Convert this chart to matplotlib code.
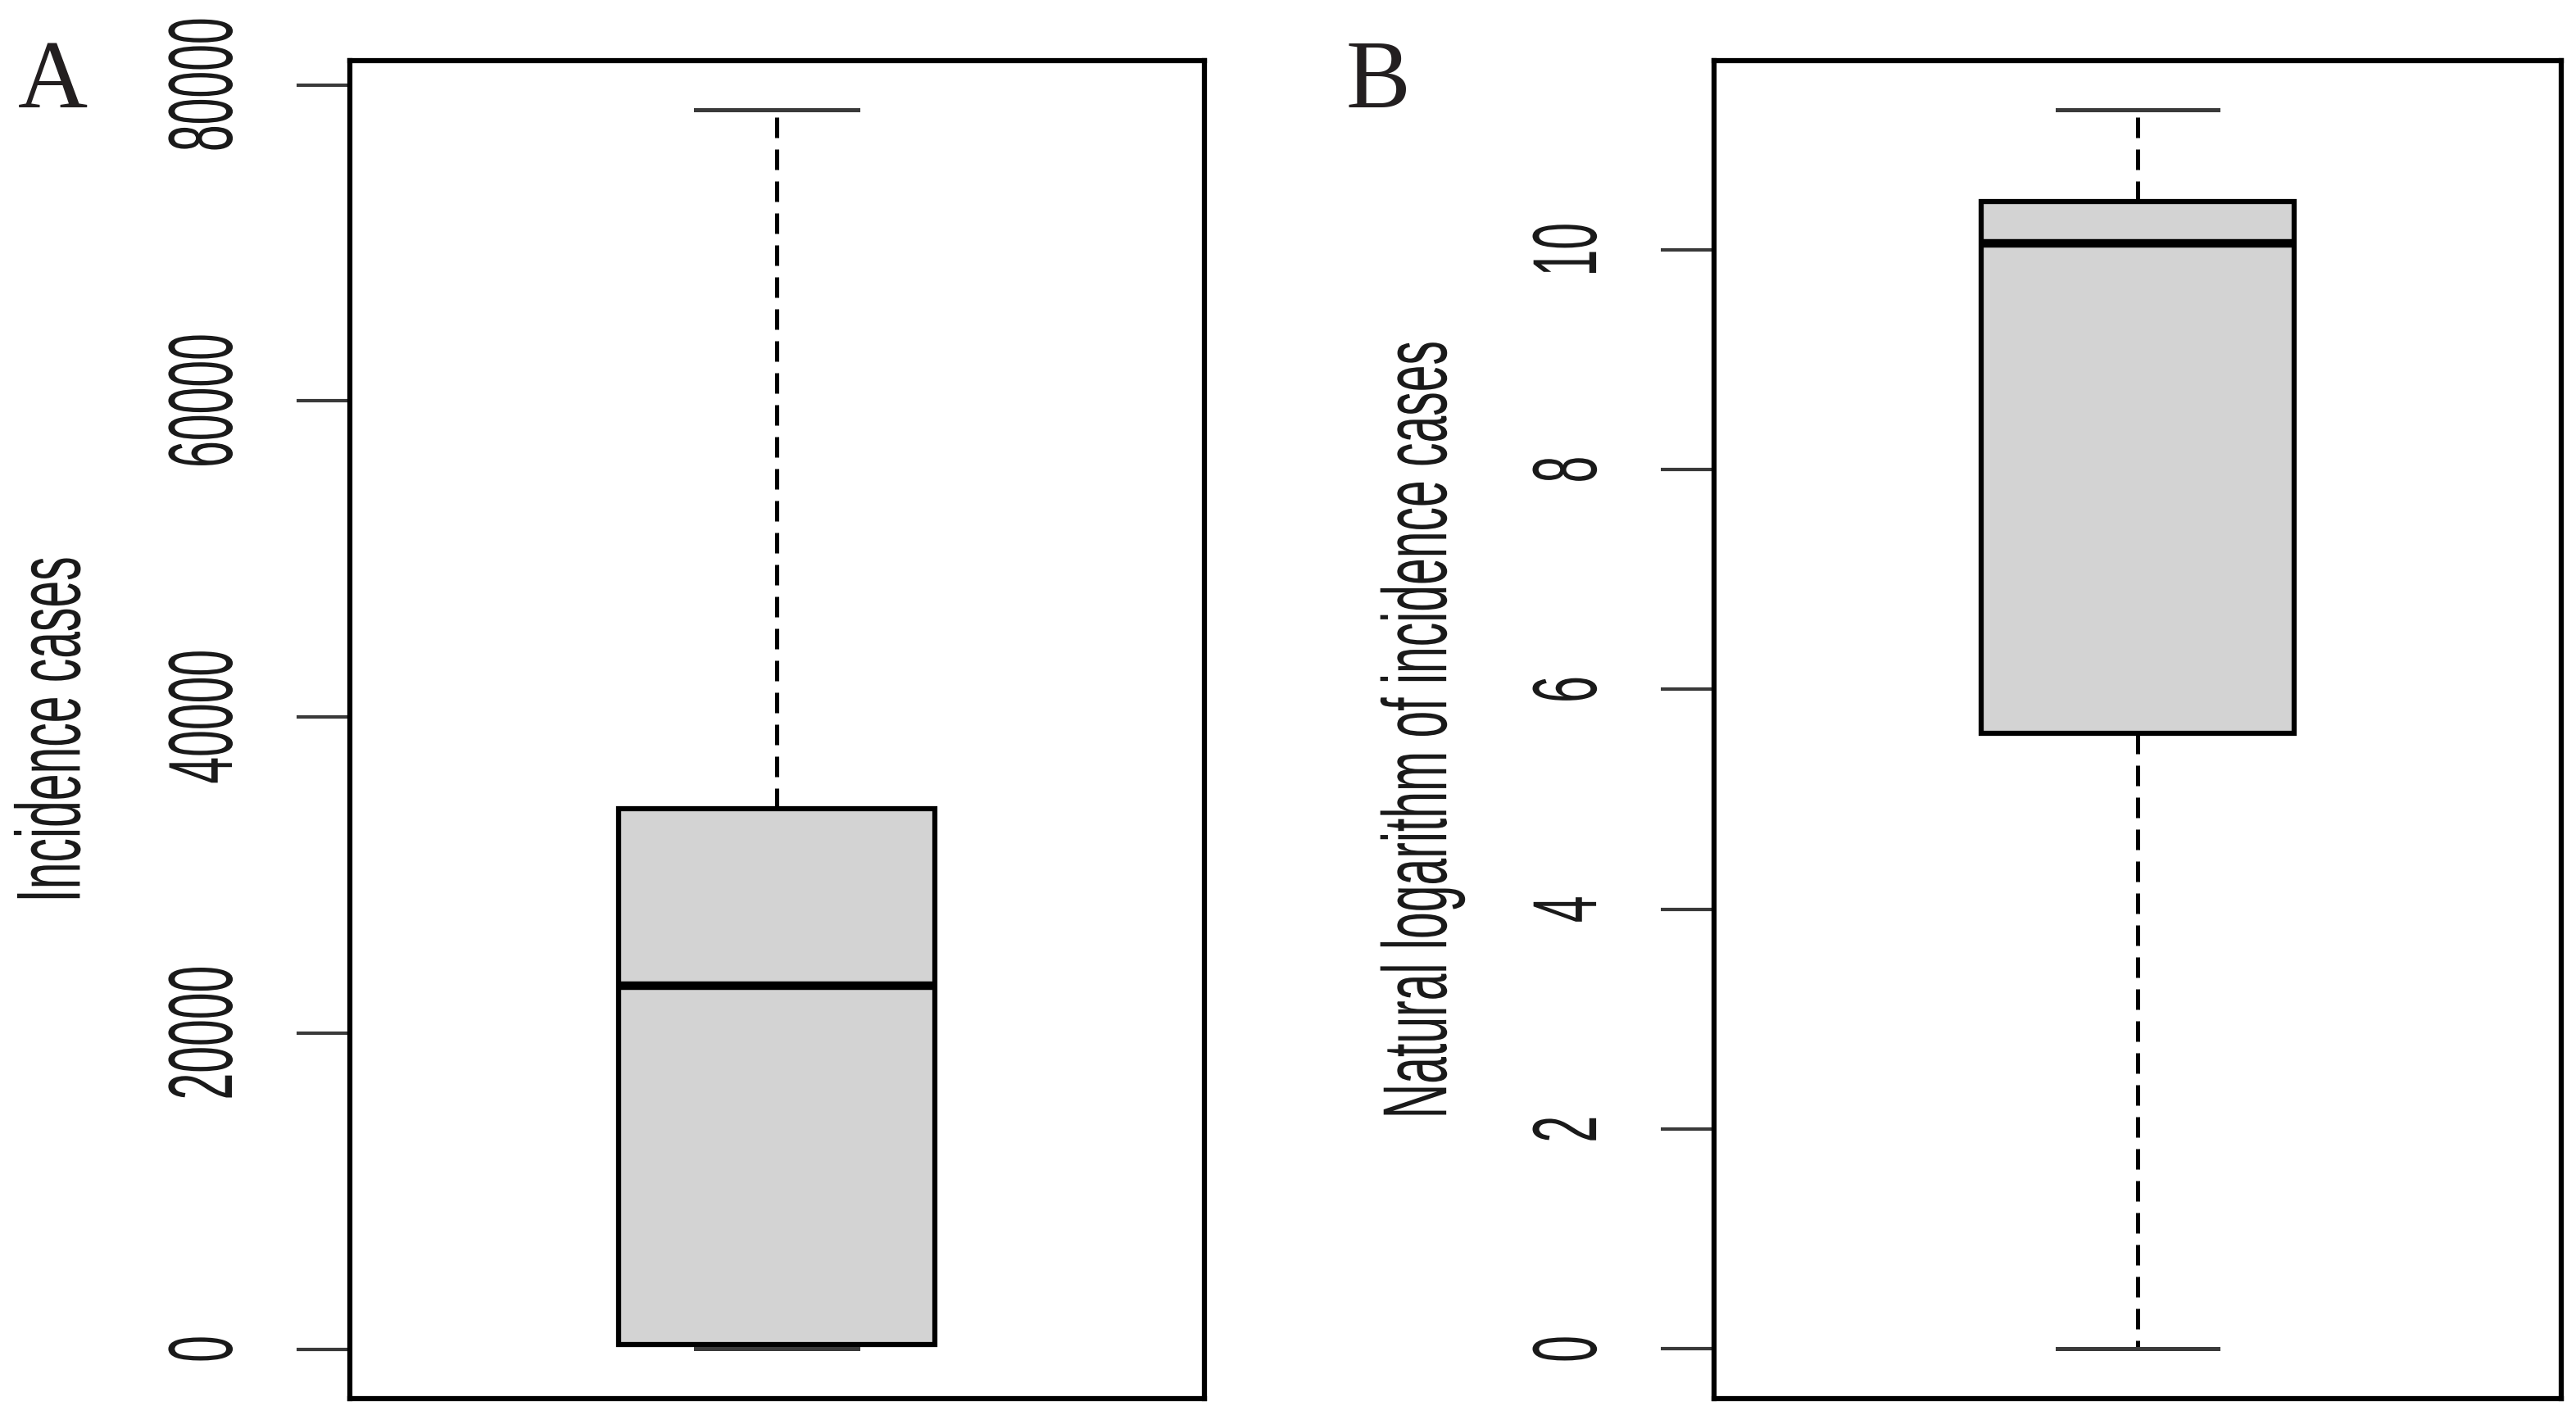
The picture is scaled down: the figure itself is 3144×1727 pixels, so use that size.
import matplotlib
matplotlib.use('Agg')
import matplotlib.pyplot as plt
from matplotlib.patheffects import AbstractPathEffect
from matplotlib.transforms import Affine2D

# resumen de cada caja: minimo, Q1, mediana, Q3, maximo
casos_resumen = [1, 270, 23000, 34200, 78400]
log_resumen = [0, 5.60, 10.06, 10.44, 11.27]

casos_ticks = [0, 20000, 40000, 60000, 80000]
log_ticks = [0, 2, 4, 6, 8, 10]

etiquetas_y = ['Incidence cases', 'Natural logarithm of incidence cases']
letras_panel = ['A', 'B']

plt.rcParams['font.family'] = ['Liberation Sans', 'DejaVu Sans']

ANGOSTO = 0.53            # la fuente de R sale muy angosta en la figura original
TAM_TEXTO = 80 * ANGOSTO  # tamaño que da el largo correcto de cada texto


class Alto(AbstractPathEffect):
    # estira los glifos perpendicular a la linea base (desde la linea base)
    def __init__(self, factor=1 / ANGOSTO):
        super().__init__()
        self.factor = factor

    def draw_path(self, renderer, gc, tpath, affine, rgbFace=None):
        escala = Affine2D().scale(1, self.factor)
        renderer.draw_path(gc, tpath, escala + affine, rgbFace)


def dibujar_caja(ax, resumen, ticks, etiqueta):
    stats = [dict(whislo=resumen[0], q1=resumen[1], med=resumen[2],
                  q3=resumen[3], whishi=resumen[4], fliers=[])]
    ax.bxp(stats, positions=[0.5], widths=0.37, capwidths=0.19,
           patch_artist=True, showfliers=False,
           boxprops=dict(facecolor='#d3d3d3', edgecolor='black', linewidth=4.5),
           medianprops=dict(color='black', linewidth=7.5, solid_capstyle='butt'),
           whiskerprops=dict(color='black', linewidth=3.6, linestyle=(0, (5, 2.8))),
           capprops=dict(color='#3a3a3a', linewidth=3.6))

    # limites como los pone R: 4% del rango a cada lado
    rango = resumen[4] - resumen[0]
    ax.set_ylim(resumen[0] - 0.04 * rango, resumen[4] + 0.04 * rango)
    ax.set_xlim(0, 1)
    ax.set_xticks([])

    ax.set_yticks(ticks)
    ax.set_yticklabels([str(t) for t in ticks])
    ax.tick_params(axis='y', length=47, width=3, color='#3a3a3a', pad=48,
                   labelsize=TAM_TEXTO, labelcolor='#1a1a1a')
    for lbl in ax.get_yticklabels():
        lbl.set_rotation(90)
        lbl.set_va('center')
        lbl.set_path_effects([Alto()])

    ax.set_ylabel(etiqueta, fontsize=TAM_TEXTO, color='#1a1a1a')
    ax.yaxis.set_label_coords(-0.3045, 0.5)
    ax.yaxis.label.set_path_effects([Alto()])

    for lado in ax.spines.values():
        lado.set_linewidth(4.5)
        lado.set_color('black')


fig = plt.figure(figsize=(31.44, 17.27), dpi=100)
ax_a = fig.add_axes([0.1358, 0.0116, 0.3317, 0.9456])
ax_b = fig.add_axes([0.6654, 0.0116, 0.3289, 0.9456])

dibujar_caja(ax_a, casos_resumen, casos_ticks, etiquetas_y[0])
dibujar_caja(ax_b, log_resumen, log_ticks, etiquetas_y[1])

fig.text(0.007, 1 - 131 / 1727, letras_panel[0], family='Liberation Serif',
         fontsize=85, color='#231f20', ha='left', va='baseline')
fig.text(0.5226, 1 - 131 / 1727, letras_panel[1], family='Liberation Serif',
         fontsize=85, color='#231f20', ha='left', va='baseline')

fig.savefig('out.png', dpi=100, facecolor='white')
